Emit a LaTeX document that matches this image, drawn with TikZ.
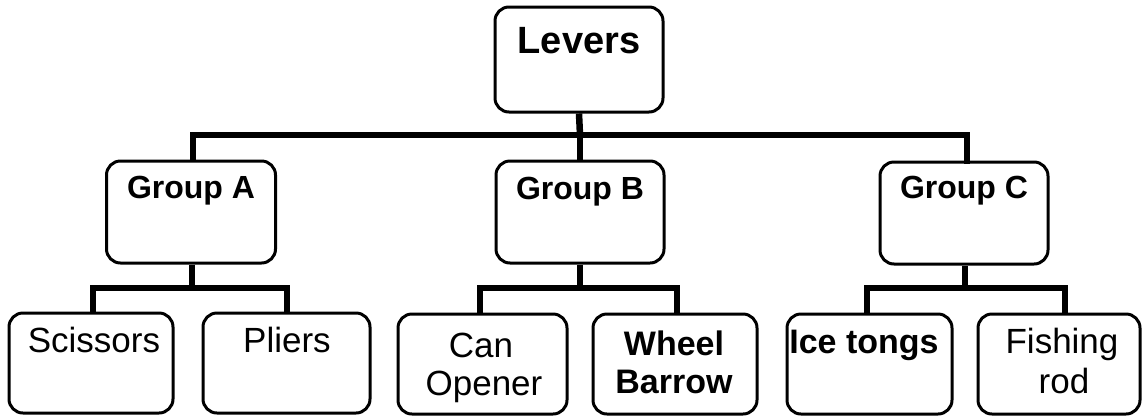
\documentclass[tikz,border=0pt]{standalone}
\usepackage{fontspec}
\setmainfont{Liberation Sans}
\begin{document}
\begin{tikzpicture}[x=1pt,y=-1pt,
  box/.style={draw=black, line width=3pt, rounded corners=14pt, inner sep=0pt, fill=none},
  conn/.style={draw=black, line width=6.5pt},
  toplbl/.style={anchor=base, inner sep=0pt, font=\fontsize{38}{40}\selectfont\bfseries},
  grplbl/.style={anchor=base, inner sep=0pt, font=\fontsize{32}{34}\selectfont\bfseries},
  leaflbl/.style={anchor=base, inner sep=0pt, align=center, font=\fontsize{35}{38}\selectfont},
  leafbold/.style={leaflbl, font=\fontsize{34}{38}\selectfont\bfseries}]
\useasboundingbox (0,0) rectangle (1142,416);
% boxes
\node[box, minimum width=168pt, minimum height=105pt] (levers) at (579,59.5) {};
\node[box, minimum width=169pt, minimum height=102pt] (ga) at (191,212) {};
\node[box, minimum width=168pt, minimum height=102pt] (gb) at (580,212) {};
\node[box, minimum width=168pt, minimum height=102pt] (gc) at (964,213) {};
\node[box, minimum width=164pt, minimum height=100pt] (sc) at (91,363) {};
\node[box, minimum width=167pt, minimum height=100pt] (pl) at (286.5,363) {};
\node[box, minimum width=169pt, minimum height=100pt] (co) at (482.5,364) {};
\node[box, minimum width=164pt, minimum height=100pt] (wb) at (675,364) {};
\node[box, minimum width=165pt, minimum height=100pt] (it) at (869.5,364) {};
\node[box, minimum width=162pt, minimum height=100pt] (fr) at (1059,364) {};
% labels
\node[toplbl] (tlev) at (579,53) {Levers};
\node[grplbl] (tga) at (191,198) {Group A};
\node[grplbl] (tgb) at (580,199) {Group B};
\node[grplbl] (tgc) at (964,198) {Group C};
\node[leaflbl] (tsc) at (94,352) {Scissors};
\node[leaflbl] (tpl) at (287,352) {Pliers};
\node[leaflbl] (tco1) at (481,357) {Can};
\node[leaflbl] (tco2) at (484,395) {Opener};
\node[leafbold] (twb1) at (674,355) {Wheel};
\node[leafbold] (twb2) at (674,393) {Barrow};
\node[leafbold] (tit) at (864,353) {Ice tongs};
\node[leaflbl] (tfr1) at (1062,353) {Fishing};
\node[leaflbl] (tfr2) at (1064,393) {rod};
% junctions
\coordinate (j0) at (580,135);
\coordinate (ja) at (192,288);
\coordinate (jb) at (580,288);
\coordinate (jc) at (965,288);
\coordinate (sca) at (93,312);
\coordinate (pla) at (287,312);
\coordinate (coa) at (480,313);
\coordinate (wba) at (677,313);
\coordinate (ita) at (867,313);
\coordinate (fra) at (1065,313);
\coordinate (gaa) at (193,160);
\coordinate (gca) at (967,164);
% connectors
\draw[conn] (levers.south) -- (j0);
\draw[conn] (j0) -- (gb.north);
\draw[conn] (gaa) |- (j0) -| (gca);
\draw[conn] (ga.south -| ja) -- (ja);
\draw[conn] (sca) |- (ja) -| (pla);
\draw[conn] (gb.south) -- (jb);
\draw[conn] (coa) |- (jb) -| (wba);
\draw[conn] (gc.south -| jc) -- (jc);
\draw[conn] (ita) |- (jc) -| (fra);
\end{tikzpicture}
\end{document}
